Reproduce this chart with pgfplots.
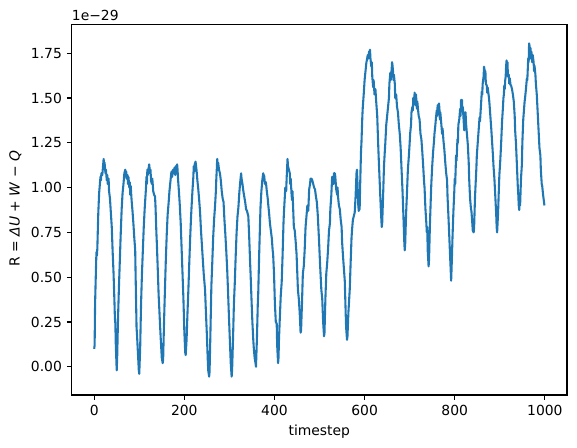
\documentclass[border=0pt]{standalone}
\usepackage{pgfplots}
\pgfplotsset{compat=1.18}
\usepackage{fontspec}
\setmainfont{DejaVu Sans}
\definecolor{mplblue}{RGB}{31,119,180}
\begin{document}
\begin{tikzpicture}
\begin{axis}[
  at={(51.6bp,38.2bp)}, anchor=south west,
  scale only axis, width=356.6bp, height=266.4bp,
  xmin=-49.95, xmax=1048.95, ymin=-0.1575, ymax=1.908,
  xtick={0,200,400,600,800,1000},
  ytick={0,0.25,0.5,0.75,1,1.25,1.5,1.75},
  xticklabel style={/pgf/number format/1000 sep={}},
  yticklabel style={/pgf/number format/.cd, fixed, fixed zerofill, precision=2},
  /pgf/number format/assume math mode=true,
  tick pos=left, tick align=outside,
  major tick length=3.5bp,
  every tick/.style={black, line width=0.8bp},
  axis line style={line width=0.8bp},
  ticklabel style={font=\fontsize{10bp}{12bp}\selectfont},
  label style={font=\fontsize{10bp}{12bp}\selectfont},
  xlabel={timestep},
  ylabel={R = \textit{ΔU} + \textit{W} − \textit{Q}},
  ylabel style={xshift=1bp},
  scaled y ticks=false,
]
\addplot[mplblue, line width=1.5bp, line join=round] coordinates {
(0,0.10)(1,0.12)(2,0.35)(4,0.55)(5,0.64)(6,0.62)(7,0.66)(9,0.85)(11,0.97)(13,1.03)(14,1.06)(15,1.04)(16,1.08)(18,1.07)(19,1.10)(21,1.16)(22,1.12)(23,1.14)(25,1.08)(26,1.10)(28,1.04)(29,1.07)(30,1.02)(32,1.05)(33,0.98)(35,0.94)(37,0.86)(39,0.78)(41,0.64)(43,0.52)(45,0.36)(46,0.27)(47,0.24)(48,0.12)(50,-0.02)(51,0.05)
(53,0.28)(55,0.45)(57,0.60)(59,0.75)(61,0.88)(63,0.97)(65,1.02)(67,1.08)(69,1.10)(70,1.07)(71,1.09)(72,1.05)(74,1.07)(75,1.02)(76,1.06)(78,1.00)(79,1.03)(80,0.96)(81,1.01)(83,0.93)(85,0.87)(87,0.80)(89,0.72)(91,0.65)(92,0.50)(94,0.22)(95,0.18)(97,0.08)(99,-0.02)(100,-0.04)(102,0.10)
(104,0.35)(106,0.52)(108,0.65)(110,0.78)(112,0.88)(113,0.92)(115,1.00)(116,1.06)(117,1.02)(118,1.10)(119,1.07)(121,1.11)(122,1.13)(124,1.08)(125,1.10)(126,1.04)(128,1.02)(129,1.05)(131,0.98)(133,0.96)(135,0.95)(136,0.90)(138,0.75)(139,0.69)(141,0.55)(143,0.40)(144,0.35)(146,0.24)(148,0.14)(150,0.05)(152,0.02)(153,0.04)
(155,0.25)(157,0.43)(159,0.60)(161,0.74)(163,0.85)(165,0.91)(167,0.98)(169,1.03)(171,1.08)(172,1.09)(173,1.06)(175,1.10)(177,1.08)(178,1.11)(180,1.07)(181,1.12)(183,1.09)(184,1.13)(185,1.10)(186,1.05)(188,0.98)(190,0.90)(192,0.80)(194,0.66)(196,0.52)(198,0.38)(200,0.20)(202,0.08)(203,0.065)(205,0.15)
(207,0.30)(209,0.43)(211,0.58)(213,0.72)(215,0.84)(216,0.89)(218,0.98)(220,1.06)(221,1.12)(222,1.09)(223,1.13)(225,1.145)(226,1.12)(227,1.10)(229,1.04)(231,0.99)(233,0.93)(235,0.86)(237,0.76)(239,0.68)(241,0.60)(243,0.52)(246,0.43)(248,0.30)(250,0.18)(252,0.04)(253,-0.02)(255,-0.055)(256,-0.03)(258,0.20)
(260,0.45)(262,0.58)(264,0.72)(266,0.82)(268,0.89)(270,0.98)(271,1.05)(272,1.10)(273,1.16)(274,1.12)(275,1.14)(277,1.10)(279,1.08)(281,1.04)(283,0.98)(285,0.94)(287,0.92)(289,0.82)(291,0.74)(293,0.65)(295,0.55)(297,0.42)(299,0.28)(301,0.15)(303,0.02)(305,-0.055)(306,-0.02)(308,0.15)
(310,0.35)(312,0.47)(314,0.62)(316,0.75)(318,0.84)(320,0.89)(322,0.97)(324,1.03)(326,1.08)(327,1.05)(329,1.02)(331,0.98)(333,0.95)(335,0.92)(337,0.88)(339,0.87)(341,0.85)(342,0.84)(344,0.72)(346,0.58)(347,0.52)(349,0.38)(351,0.25)(353,0.15)(354,0.11)(356,0.05)(358,0.02)(359,0.0)(361,0.15)
(363,0.35)(364,0.41)(366,0.62)(368,0.80)(369,0.89)(371,0.98)(373,1.04)(375,1.08)(376,1.05)(377,1.07)(379,1.02)(381,1.03)(383,0.98)(385,0.94)(386,0.91)(388,0.86)(390,0.80)(392,0.76)(394,0.72)(396,0.65)(397,0.63)(399,0.52)(401,0.35)(403,0.25)(405,0.24)(406,0.12)(408,0.02)(409,0.05)
(410,0.15)(412,0.28)(414,0.40)(416,0.47)(418,0.62)(420,0.80)(421,0.86)(423,0.95)(424,1.00)(426,0.98)(427,1.05)(429,1.16)(430,1.12)(432,1.10)(434,1.08)(435,1.02)(436,1.05)(438,0.96)(439,0.93)(440,0.98)(442,0.85)(443,0.78)(445,0.76)(447,0.70)(449,0.63)(451,0.50)(452,0.43)(454,0.38)(456,0.30)(458,0.19)(459,0.20)(461,0.35)
(463,0.52)(465,0.56)(467,0.65)(469,0.78)(471,0.84)(473,0.90)(475,0.87)(477,0.99)(479,1.02)(480,1.05)(482,1.05)(484,1.04)(486,1.02)(488,1.00)(490,0.99)(492,0.95)(494,0.92)(496,0.85)(497,0.80)(499,0.70)(501,0.58)(503,0.48)(504,0.43)(506,0.38)(508,0.25)(510,0.17)(511,0.19)(513,0.38)
(515,0.52)(517,0.58)(519,0.66)(521,0.76)(523,0.80)(524,0.88)(526,0.95)(528,1.06)(530,1.06)(531,1.02)(532,1.08)(534,1.08)(535,1.06)(537,0.99)(539,0.96)(540,1.00)(541,0.95)(543,0.90)(545,0.88)(547,0.82)(549,0.78)(550,0.70)(552,0.62)(554,0.55)(556,0.48)(558,0.30)(559,0.22)(561,0.15)(562,0.17)(564,0.30)
(567,0.43)(569,0.58)(571,0.72)(572,0.76)(574,0.82)(576,0.84)(578,0.86)(580,0.95)(582,1.08)(583,1.10)(584,1.04)(586,0.90)(587,0.87)(589,0.88)(590,1.00)(592,1.20)(593,1.25)(595,1.40)(596,1.45)(598,1.52)(600,1.60)(602,1.65)(604,1.70)(605,1.71)(607,1.74)(608,1.72)(610,1.76)(611,1.75)(612,1.77)(613,1.72)(615,1.675)(616,1.70)(617,1.62)(619,1.56)(620,1.60)(622,1.52)(624,1.55)(626,1.47)(628,1.40)(630,1.25)(632,1.12)(634,1.00)(636,0.88)(638,0.78)(639,0.80)(641,0.95)
(643,1.12)(645,1.21)(646,1.25)(648,1.35)(650,1.40)(652,1.45)(654,1.50)(655,1.58)(657,1.64)(658,1.60)(660,1.66)(661,1.70)(662,1.68)(663,1.65)(664,1.60)(665,1.63)(667,1.58)(668,1.50)(670,1.52)(672,1.45)(674,1.42)(676,1.35)(678,1.30)(680,1.22)(682,1.10)(684,0.99)(686,0.85)(688,0.70)(689,0.65)(690,0.68)(692,0.85)(694,0.97)
(696,1.10)(698,1.17)(700,1.25)(701,1.30)(703,1.35)(704,1.42)(706,1.45)(707,1.43)(708,1.50)(710,1.48)(711,1.53)(712,1.50)(713,1.46)(714,1.52)(716,1.44)(717,1.48)(718,1.45)(720,1.40)(722,1.38)(724,1.30)(726,1.27)(728,1.20)(730,1.12)(732,1.03)(733,1.00)(735,0.88)(737,0.80)(738,0.75)(739,0.78)(740,0.65)(742,0.56)(743,0.60)
(745,0.80)(747,0.95)(748,1.02)(750,1.12)(752,1.20)(754,1.26)(755,1.30)(757,1.35)(758,1.38)(760,1.43)(761,1.40)(762,1.46)(763,1.42)(765,1.47)(766,1.44)(767,1.38)(768,1.42)(770,1.36)(772,1.30)(773,1.33)(775,1.26)(777,1.21)(779,1.14)(781,1.08)(783,1.04)(784,0.95)(786,0.84)(787,0.78)(789,0.66)(791,0.54)(792,0.48)(793,0.55)
(795,0.72)(797,0.865)(799,0.98)(800,1.05)(801,1.02)(803,1.18)(804,1.15)(806,1.27)(807,1.25)(808,1.35)(810,1.38)(812,1.44)(813,1.40)(814,1.49)(815,1.46)(816,1.49)(817,1.43)(818,1.45)(819,1.405)(821,1.32)(822,1.38)(823,1.42)(824,1.42)(825,1.36)(827,1.30)(829,1.24)(831,1.14)(832,1.05)(834,0.94)(836,0.88)(837,0.87)(839,0.80)(840,0.76)(842,0.75)(843,0.78)
(845,0.95)(848,1.11)(849,1.18)(851,1.25)(853,1.32)(855,1.39)(856,1.37)(858,1.45)(860,1.535)(861,1.52)(862,1.58)(864,1.62)(865,1.675)(866,1.66)(867,1.62)(868,1.65)(869,1.58)(871,1.57)(872,1.53)(873,1.56)(876,1.50)(877,1.47)(879,1.40)(881,1.33)(883,1.25)(885,1.17)(886,1.12)(888,1.05)(890,0.95)(892,0.85)(893,0.78)(894,0.75)(896,0.85)
(898,1.00)(899,1.07)(901,1.15)(903,1.25)(905,1.37)(907,1.45)(908,1.50)(909,1.52)(910,1.57)(911,1.55)(912,1.60)(913,1.62)(914,1.68)(915,1.71)(916,1.66)(917,1.70)(918,1.62)(920,1.63)(921,1.58)(922,1.61)(924,1.57)(925,1.57)(927,1.55)(929,1.52)(931,1.48)(933,1.40)(934,1.32)(936,1.24)(938,1.12)(940,1.00)(941,0.96)(942,0.90)(943,0.875)(944,0.92)(945,0.90)
(947,1.05)(949,1.13)(950,1.25)(952,1.38)(955,1.48)(956,1.50)(958,1.55)(960,1.61)(961,1.60)(962,1.66)(963,1.72)(964,1.70)(965,1.805)(966,1.79)(967,1.74)(968,1.78)(969,1.72)(970,1.76)(971,1.73)(972,1.70)(973,1.74)(975,1.70)(976,1.65)(977,1.68)(979,1.63)(980,1.58)(982,1.52)(984,1.42)(986,1.32)(988,1.22)(990,1.18)(991,1.10)(993,1.02)(994,1.01)(996,0.96)(997,0.94)(999,0.90)
};
\end{axis}
\node[anchor=south west, inner sep=0pt, font=\fontsize{10bp}{12bp}\selectfont] at ([yshift=3bp]current axis.north west) {1e−29};
\pgfresetboundingbox
\useasboundingbox (0,0) rectangle (415.44bp,322.56bp);
\end{tikzpicture}
\end{document}
